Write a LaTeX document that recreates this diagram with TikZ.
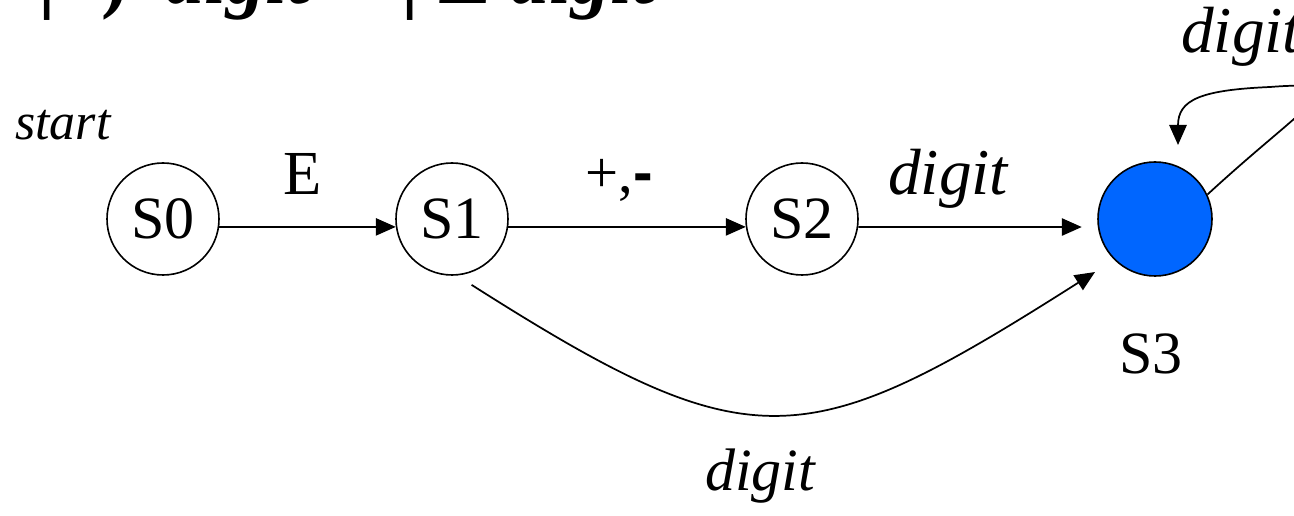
\documentclass[tikz,border=0pt]{standalone}
\usepackage{fontspec}
\setmainfont{Liberation Serif}
\setsansfont{Liberation Sans}
\usetikzlibrary{arrows.meta}
\definecolor{stblue}{HTML}{0066FF}
\begin{document}
\begin{tikzpicture}[x=0.75pt,y=-0.75pt,
  state/.style={circle,draw,line width=1.2pt,minimum size=84pt,inner sep=0pt,font=\fontsize{45}{54}\selectfont},
  arr/.style={line width=1.3pt,-{Triangle[length=15pt,width=13pt]}},
  lbl/.style={inner sep=0pt,anchor=base west},
  topt/.style={inner sep=0pt,font=\fontsize{59}{70}\selectfont\bfseries}]
\useasboundingbox (0,0) rectangle (1294,516);
\clip (0,0) rectangle (1294,516);
% title line (cut off at top)
\node[topt,anchor=base east] (t1) at (128,4) {(+ | -)};
\node[topt,anchor=base west] (t2) at (165,4) {\itshape digit*};
\node[topt,anchor=base west] (t3) at (401,4) {| E {\itshape digit*}};
% states
\node[state] (s0) at (163,219) {S0};
\node[state] (s1) at (452,219) {S1};
\node[state] (s2) at (802,219) {S2};
\node[state,fill=stblue,minimum size=85.5pt] (s3) at (1155,219) {};
\coordinate (loopend) at (1178,145);
% labels
\node[lbl,font=\fontsize{39}{46}\selectfont\itshape] (lstart) at (15,140) {start};
\node[lbl,font=\fontsize{47}{56}\selectfont] (lE) at (283,195) {E};
\node[lbl,font=\fontsize{44}{52}\selectfont] (lpm) at (585,193) {+,{\sffamily\bfseries -}};
\node[lbl,font=\fontsize{49}{58}\selectfont\itshape] (ld1) at (888,195) {digit};
\node[lbl,font=\fontsize{49}{58}\selectfont\itshape] (ld2) at (1181,53) {digit};
\node[lbl,font=\fontsize{45}{52}\selectfont\itshape] (ld3) at (705,490) {digit};
\node[lbl,font=\fontsize{45}{52}\selectfont] (ls3) at (1119,373) {S3};
% transitions
\draw[arr] (s0.-8) -- (s1.188);
\draw[arr] (s1.-8) -- (s2.188);
\draw[arr,shorten >=12pt] (s2.-8) -- (s3.188);
\draw[arr,shorten <=13pt,shorten >=17pt] (s1.-85) .. controls (752,463) and (804,457) .. (s3.225);
\draw[arr] (s3.25) .. controls (1310,100) and (1360,80) .. (1270,87) .. controls (1200,90) and (1178,100) .. (loopend);
\end{tikzpicture}
\end{document}
